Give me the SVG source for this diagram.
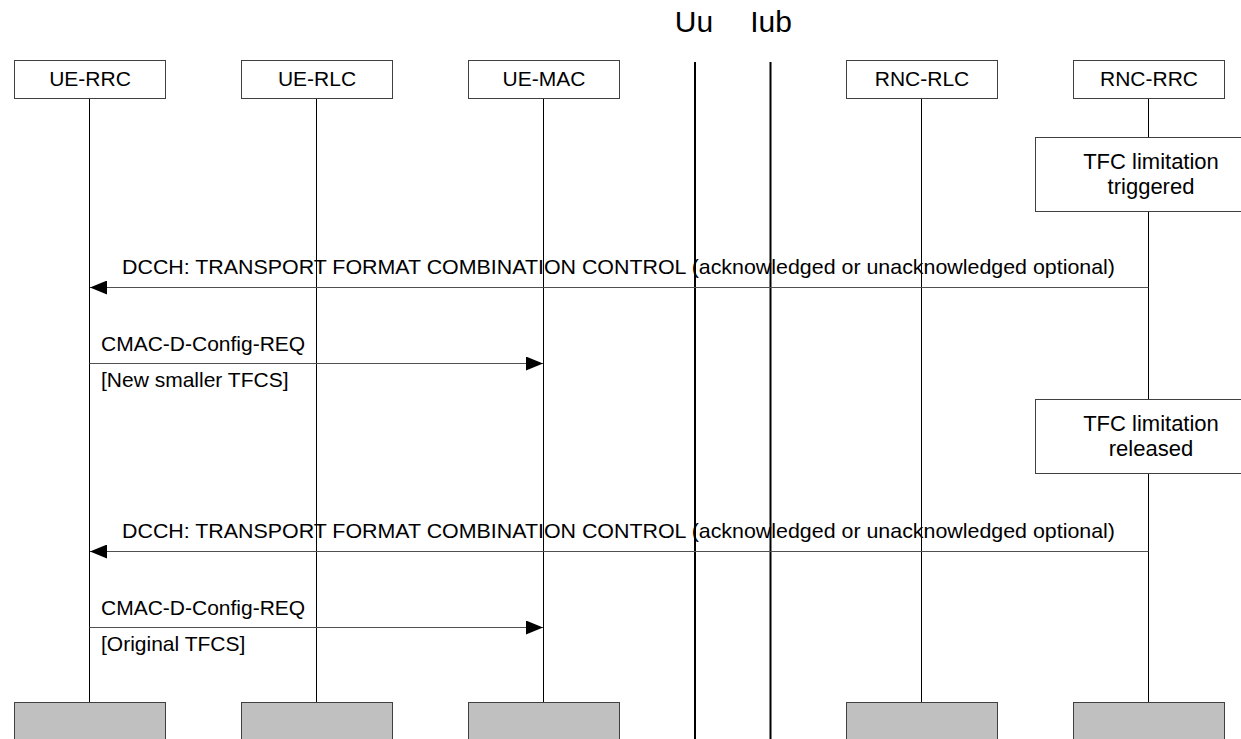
<svg xmlns="http://www.w3.org/2000/svg" width="1241" height="739" viewBox="0 0 1241 739">
  <style>
    text { font-family: "Liberation Sans", Arial, sans-serif; fill: #000; }
    .lbl { font-size: 21px; }
    .mid { font-size: 21px; text-anchor: middle; }
    .head { font-size: 21px; text-anchor: middle; }
    .note { font-size: 22px; text-anchor: middle; }
    .iface { font-size: 30px; text-anchor: middle; }
    .box { fill: #fff; stroke: #404040; stroke-width: 1; }
    .end { fill: #c0c0c0; stroke: #404040; stroke-width: 1; }
    .life { stroke: #000; stroke-width: 1; }
    .msg { stroke: #505050; stroke-width: 1; fill: none; }
    .bar { stroke: #000; stroke-width: 2; }
  </style>
  <defs>
    <marker id="arrow" viewBox="0 0 17 14" refX="17" refY="7" markerWidth="17" markerHeight="14" markerUnits="userSpaceOnUse" orient="auto">
      <path d="M0,0 L17,7 L0,14 Z" fill="#000"/>
    </marker>
  </defs>
  <rect width="1241" height="739" fill="#fff"/>

  <!-- interface boundaries -->
  <g id="interfaces">
    <text class="iface" x="694" y="32">Uu</text>
    <text class="iface" x="771" y="32">Iub</text>
    <line class="bar" x1="695" y1="62" x2="695" y2="739"/>
    <line class="bar" x1="770.5" y1="62" x2="770.5" y2="739"/>
  </g>

  <!-- lifelines -->
  <g id="lifelines">
    <line class="life" x1="89.5" y1="98" x2="89.5" y2="702" stroke="#808080"/>
    <line class="life" x1="316.5" y1="98" x2="316.5" y2="702"/>
    <line class="life" x1="543.5" y1="98" x2="543.5" y2="702"/>
    <line class="life" x1="921.5" y1="98" x2="921.5" y2="702"/>
    <line class="life" x1="1148.5" y1="98" x2="1148.5" y2="702"/>
  </g>

  <g id="ue-rrc">
    <rect class="box" x="14.5" y="60.5" width="151" height="38"/>
    <text class="head" x="90" y="86">UE-RRC</text>
    <rect class="end" x="14.5" y="702.5" width="151" height="40"/>
  </g>
  <g id="ue-rlc">
    <rect class="box" x="241.5" y="60.5" width="151" height="38"/>
    <text class="head" x="317" y="86">UE-RLC</text>
    <rect class="end" x="241.5" y="702.5" width="151" height="40"/>
  </g>
  <g id="ue-mac">
    <rect class="box" x="468.5" y="60.5" width="151" height="38"/>
    <text class="head" x="544" y="86">UE-MAC</text>
    <rect class="end" x="468.5" y="702.5" width="151" height="40"/>
  </g>
  <g id="rnc-rlc">
    <rect class="box" x="846.5" y="60.5" width="151" height="38"/>
    <text class="head" x="922" y="86">RNC-RLC</text>
    <rect class="end" x="846.5" y="702.5" width="151" height="40"/>
  </g>
  <g id="rnc-rrc">
    <rect class="box" x="1073.5" y="60.5" width="151" height="38"/>
    <text class="head" x="1149" y="86">RNC-RRC</text>
    <rect class="end" x="1073.5" y="702.5" width="151" height="40"/>
  </g>

  <!-- local actions at RNC-RRC -->
  <g id="tfc-triggered">
    <rect class="box" x="1035.5" y="137.5" width="230" height="74"/>
    <text class="note" x="1151" y="169">TFC limitation</text>
    <text class="note" x="1151" y="194">triggered</text>
  </g>
  <g id="tfc-released">
    <rect class="box" x="1035.5" y="399.5" width="230" height="74"/>
    <text class="note" x="1151" y="431">TFC limitation</text>
    <text class="note" x="1151" y="456">released</text>
  </g>

  <!-- messages -->
  <g id="connectors">
    <line class="msg" x1="1148.5" y1="287.5" x2="90" y2="287.5" marker-end="url(#arrow)"/>
    <text class="mid" x="618.5" y="274" textLength="993" lengthAdjust="spacingAndGlyphs">DCCH: TRANSPORT FORMAT COMBINATION CONTROL (acknowledged or unacknowledged optional)</text>

    <line class="msg" x1="89.5" y1="363.5" x2="543" y2="363.5" marker-end="url(#arrow)"/>
    <text class="lbl" x="101" y="351">CMAC-D-Config-REQ</text>
    <text class="lbl" x="101" y="387">[New smaller TFCS]</text>

    <line class="msg" x1="1148.5" y1="551.5" x2="90" y2="551.5" marker-end="url(#arrow)"/>
    <text class="mid" x="618.5" y="538" textLength="993" lengthAdjust="spacingAndGlyphs">DCCH: TRANSPORT FORMAT COMBINATION CONTROL (acknowledged or unacknowledged optional)</text>

    <line class="msg" x1="89.5" y1="627.5" x2="543" y2="627.5" marker-end="url(#arrow)"/>
    <text class="lbl" x="101" y="615">CMAC-D-Config-REQ</text>
    <text class="lbl" x="101" y="651">[Original TFCS]</text>
  </g>
</svg>
